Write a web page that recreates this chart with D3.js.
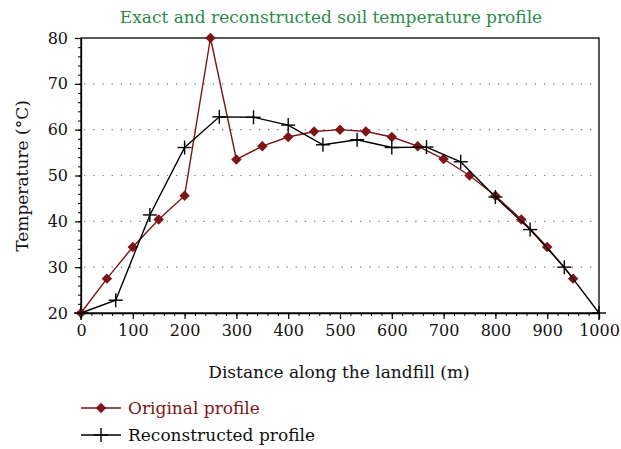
<!DOCTYPE html>
<html>
<head>
<meta charset="utf-8">
<script src="https://cdn.jsdelivr.net/npm/d3@7"></script>
<style>
  body { margin: 0; background: #fff; }
  text { font-family: "DejaVu Serif", serif; }
</style>
</head>
<body>
<svg class="s"></svg>
<script>
// values
var origX = [0, 50, 100, 150, 200, 250, 300, 350, 400, 450, 500, 550, 600, 650, 700, 750, 800, 850, 900, 950];
var origY = [20, 27.5, 34.4, 40.4, 45.6, 80, 53.5, 56.4, 58.4, 59.6, 60, 59.6, 58.4, 56.4, 53.6, 50, 45.6, 40.4, 34.4, 27.5];
var recX = [0, 67, 133, 200, 267, 333, 400, 467, 533, 600, 667, 733, 800, 867, 933, 1000];
var recY = [20, 22.8, 41.4, 56.1, 62.8, 62.7, 61, 56.7, 57.8, 56.1, 56.2, 53, 45.3, 38.2, 30, 20];
var xTicks = [0, 100, 200, 300, 400, 500, 600, 700, 800, 900, 1000];
var yTicks = [20, 30, 40, 50, 60, 70, 80];
var gridY = [30, 40, 50, 60, 70];

var w = 621;
var h = 449;
var red = '#7d1416';
var green = '#2a8c4a';

var svg = d3.select('.s')
            .attr('width', w)
            .attr('height', h);

var x = d3.scaleLinear().domain([0, 1000]).range([81, 599]);
var y = d3.scaleLinear().domain([20, 80]).range([313, 38]);

// grid
svg.append('g')
   .selectAll('line')
   .data(gridY)
   .enter()
   .append('line')
   .attr('x1', x(0) + 3)
   .attr('x2', x(1000))
   .attr('y1', function(d){ return y(d); })
   .attr('y2', function(d){ return y(d); })
   .attr('stroke', '#777')
   .attr('stroke-width', 1.2)
   .attr('stroke-dasharray', '1.3,7.9');

// frame
svg.append('rect')
   .attr('x', x(0)).attr('y', y(80))
   .attr('width', x(1000) - x(0)).attr('height', y(20) - y(80))
   .attr('fill', 'none')
   .attr('stroke', '#000')
   .attr('stroke-width', 1.3);

// minor ticks
var minorX = d3.range(0, 1001, 20);
var minorY = d3.range(20, 81, 2);
svg.append('g')
   .attr('transform', 'translate(0,' + y(20) + ')')
   .call(d3.axisBottom(x).tickValues(minorX).tickSize(3).tickFormat(''))
   .call(function(g){ g.select('.domain').remove(); });
svg.append('g')
   .attr('transform', 'translate(' + x(0) + ',0)')
   .call(d3.axisLeft(y).tickValues(minorY).tickSize(3).tickFormat(''))
   .call(function(g){ g.select('.domain').remove(); });

// major axes
var xAxis = svg.append('g')
   .attr('transform', 'translate(0,' + y(20) + ')')
   .call(d3.axisBottom(x).tickValues(xTicks).tickFormat(d3.format('d')).tickSize(6).tickSizeOuter(0).tickPadding(6));
var yAxis = svg.append('g')
   .attr('transform', 'translate(' + x(0) + ',0)')
   .call(d3.axisLeft(y).tickValues(yTicks).tickFormat(d3.format('d')).tickSize(6).tickSizeOuter(0).tickPadding(7));

[xAxis, yAxis].forEach(function(g){
  g.attr('font-family', null);
  g.select('.domain').attr('stroke-width', 1.3);
  g.selectAll('.tick line').attr('stroke-width', 1.2);
  g.selectAll('text')
   .style('font-family', '"DejaVu Serif", serif')
   .style('font-size', '16px')
   .attr('fill', '#111');
});

// lines
var origData = origX.map(function(d, i){ return [d, origY[i]]; });
var recData = recX.map(function(d, i){ return [d, recY[i]]; });
var line = d3.line()
             .x(function(d){ return x(d[0]); })
             .y(function(d){ return y(d[1]); });

svg.append('path')
   .attr('d', line(origData))
   .attr('fill', 'none')
   .attr('stroke', red)
   .attr('stroke-width', 1.4);

var diamond = d3.symbol().type(d3.symbolDiamond2).size(70);
svg.append('g')
   .selectAll('path')
   .data(origData)
   .enter()
   .append('path')
   .attr('d', diamond)
   .attr('transform', function(d){ return 'translate(' + x(d[0]) + ',' + y(d[1]) + ')'; })
   .attr('fill', red);

svg.append('path')
   .attr('d', line(recData))
   .attr('fill', 'none')
   .attr('stroke', '#000')
   .attr('stroke-width', 1.4);

var plus = function(g, cx, cy){
  g.append('line').attr('x1', cx - 7).attr('x2', cx + 7).attr('y1', cy).attr('y2', cy)
   .attr('stroke', '#000').attr('stroke-width', 1.4);
  g.append('line').attr('x1', cx).attr('x2', cx).attr('y1', cy - 7).attr('y2', cy + 7)
   .attr('stroke', '#000').attr('stroke-width', 1.4);
};
var plusG = svg.append('g');
recData.forEach(function(d){ plus(plusG, x(d[0]), y(d[1])); });

// titles
svg.append('text')
   .attr('x', 331).attr('y', 23)
   .attr('text-anchor', 'middle')
   .attr('font-size', 17)
   .attr('fill', green)
   .text('Exact and reconstructed soil temperature profile');

svg.append('text')
   .attr('x', 339).attr('y', 378)
   .attr('text-anchor', 'middle')
   .attr('font-size', 17)
   .attr('fill', '#111')
   .text('Distance along the landfill (m)');

svg.append('text')
   .attr('transform', 'translate(28,176) rotate(-90)')
   .attr('text-anchor', 'middle')
   .attr('font-size', 17)
   .attr('fill', '#111')
   .text('Temperature (°C)');

// legend
var leg = svg.append('g');
leg.append('line').attr('x1', 81).attr('x2', 121).attr('y1', 408).attr('y2', 408)
   .attr('stroke', red).attr('stroke-width', 1.4);
leg.append('path').attr('d', diamond).attr('transform', 'translate(101,408)').attr('fill', red);
leg.append('text').attr('x', 128).attr('y', 414).attr('font-size', 17).attr('fill', red)
   .text('Original profile');

leg.append('line').attr('x1', 81).attr('x2', 121).attr('y1', 435).attr('y2', 435)
   .attr('stroke', '#000').attr('stroke-width', 1.4);
plus(leg, 101, 435);
leg.append('text').attr('x', 128).attr('y', 441).attr('font-size', 17).attr('fill', '#111')
   .text('Reconstructed profile');
</script>
</body>
</html>
